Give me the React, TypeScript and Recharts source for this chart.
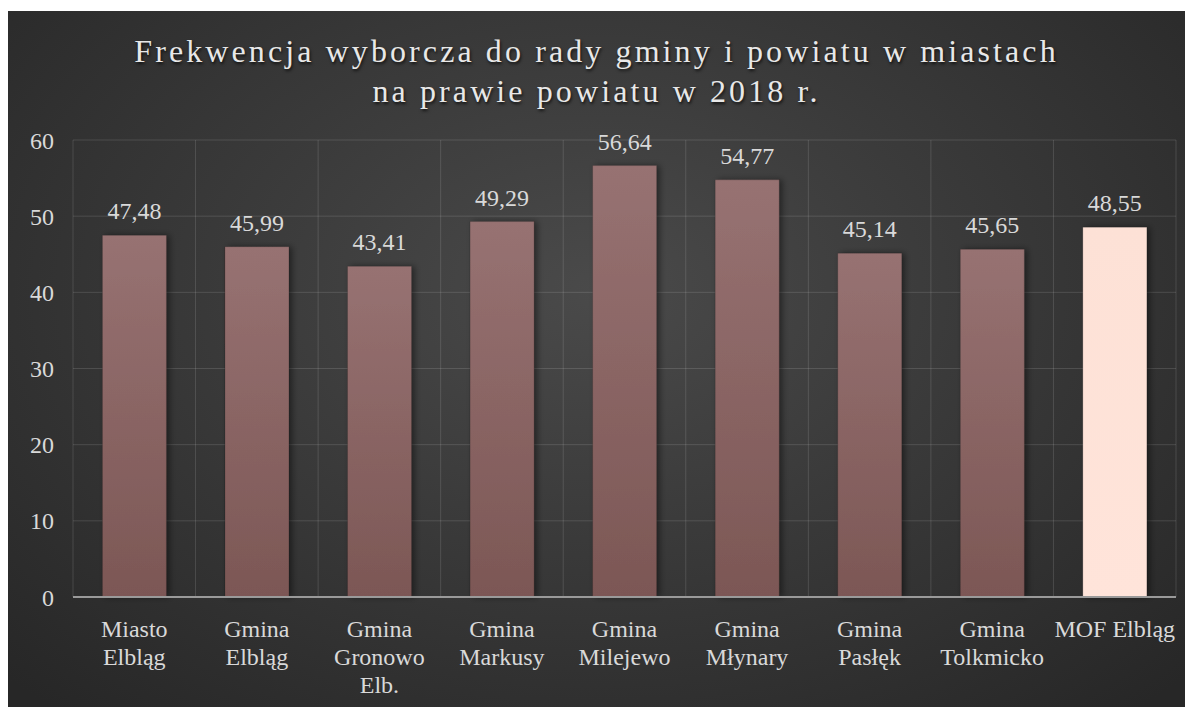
import * as React from "react";
import {
  BarChart,
  Bar,
  XAxis,
  YAxis,
  CartesianGrid,
  Cell,
  LabelList,
} from "recharts";

// categories (with the line breaks used in the picture)
const categories = [
  "Miasto\nElbląg",
  "Gmina\nElbląg",
  "Gmina\nGronowo\nElb.",
  "Gmina\nMarkusy",
  "Gmina\nMilejewo",
  "Gmina\nMłynary",
  "Gmina\nPasłęk",
  "Gmina\nTolkmicko",
  "MOF Elbląg",
];

const turnout = [47.48, 45.99, 43.41, 49.29, 56.64, 54.77, 45.14, 45.65, 48.55];

const yTicks = [0, 10, 20, 30, 40, 50, 60];

const titleLines = [
  "Frekwencja wyborcza do rady gminy i powiatu w miastach",
  "na prawie powiatu w 2018 r.",
];

const FONT = "'Liberation Serif', 'DejaVu Serif', serif";
const TEXT = "#d9d9d9";

const W = 1177;
const H = 696;

function CategoryTick(props: any) {
  const { x, y, payload } = props;
  const lines = String(payload.value).split("\n");
  return (
    <text
      x={x}
      y={y}
      textAnchor="middle"
      fill={TEXT}
      fontFamily={FONT}
      fontSize={24}
    >
      {lines.map((l, i) => (
        <tspan key={i} x={x} dy={i === 0 ? 32 : 28}>
          {l}
        </tspan>
      ))}
    </text>
  );
}

export default function App() {
  const rows = categories.map((c, i) => ({ name: c, value: turnout[i] }));

  return (
    <div
      style={{
        position: "relative",
        width: W,
        height: H,
        marginTop: 3,
        background:
          "radial-gradient(ellipse 70% 80% at 50% 40%, #4a4a4a 0%, #3a3a3a 45%, #272727 100%)",
        fontFamily: FONT,
      }}
    >
      <div
        style={{
          position: "absolute",
          top: 20,
          left: 0,
          width: W,
          textAlign: "center",
          color: "#e8e8e8",
          fontSize: 32,
          lineHeight: "40px",
          letterSpacing: 3.1,
          textShadow: "1px 2px 3px rgba(0,0,0,0.7)",
        }}
      >
        {titleLines.map((t) => (
          <div key={t}>{t}</div>
        ))}
      </div>

      <BarChart
        width={W}
        height={H}
        data={rows}
        margin={{ top: 129, right: 9, left: 10, bottom: 10 }}
        barCategoryGap="24%"
        style={{ position: "absolute", top: 0, left: 0 }}
      >
        <defs>
          <linearGradient id="barFill" x1="0" y1="0" x2="0" y2="1">
            <stop offset="0%" stopColor="#977272" />
            <stop offset="100%" stopColor="#7c5755" />
          </linearGradient>
          <linearGradient id="mofFill" x1="0" y1="0" x2="0" y2="1">
            <stop offset="0%" stopColor="#fde1d6" />
            <stop offset="100%" stopColor="#ffe4da" />
          </linearGradient>
          <filter id="barShadow" x="-20%" y="-10%" width="150%" height="120%">
            <feDropShadow dx="3" dy="0" stdDeviation="3" floodColor="#000" floodOpacity="0.45" />
          </filter>
        </defs>
        <CartesianGrid
          stroke="rgba(255,255,255,0.13)"
          strokeWidth={1}
          verticalCoordinatesGenerator={({ offset }: any) =>
            categories
              .concat([""])
              .map((_, i) => offset.left + (i * offset.width) / categories.length)
          }
        />
        <XAxis
          dataKey="name"
          interval={0}
          height={100}
          tickLine={false}
          axisLine={{ stroke: "#9a9a9a", strokeWidth: 2 }}
          tick={<CategoryTick />}
        />
        <YAxis
          width={55}
          domain={[0, 60]}
          ticks={yTicks}
          axisLine={false}
          tickLine={false}
          tickMargin={13}
          tick={{ fill: TEXT, fontFamily: FONT, fontSize: 24 }}
        />
        <Bar
          dataKey="value"
          isAnimationActive={false}
          filter="url(#barShadow)"
          stroke="rgba(0,0,0,0.15)"
        >
          {rows.map((r, i) => (
            <Cell
              key={r.name}
              fill={i === rows.length - 1 ? "url(#mofFill)" : "url(#barFill)"}
            />
          ))}
          <LabelList
            dataKey="value"
            position="top"
            offset={16}
            fill={TEXT}
            fontFamily={FONT}
            fontSize={24}
            formatter={(v: any) => Number(v).toFixed(2).replace(".", ",")}
          />
        </Bar>
      </BarChart>
    </div>
  );
}
